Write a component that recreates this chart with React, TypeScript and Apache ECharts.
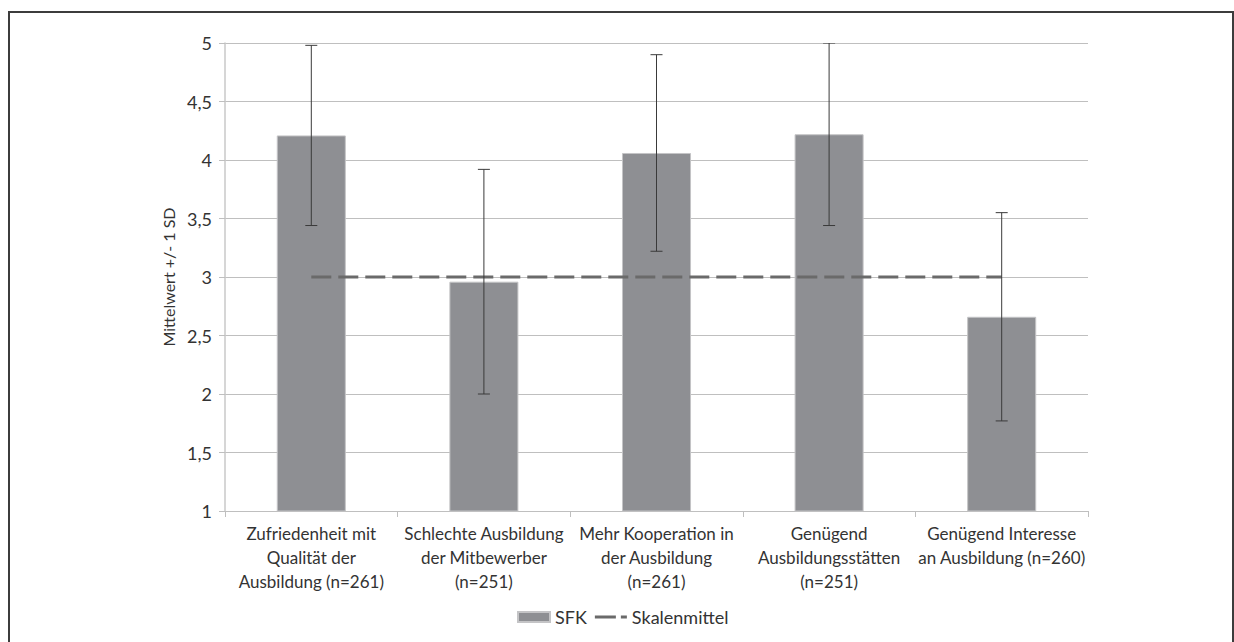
import React, { useEffect, useRef } from "react";
import * as echarts from "echarts";

const categories = [
  "Zufriedenheit mit\nQualität der\nAusbildung (n=261)",
  "Schlechte Ausbildung\nder Mitbewerber\n(n=251)",
  "Mehr Kooperation in\nder Ausbildung\n(n=261)",
  "Genügend\nAusbildungsstätten\n(n=251)",
  "Genügend Interesse\nan Ausbildung (n=260)",
];
const means = [4.21, 2.96, 4.06, 4.22, 2.66];
const sds = [0.77, 0.96, 0.84, 0.78, 0.89];
const scaleMid = [3, 3, 3, 3, 3];
const yTicks = { min: 1, max: 5, interval: 0.5 };

const FONT = "Lato";

export default function App() {
  const ref = useRef<HTMLDivElement>(null);
  useEffect(() => {
    if (!ref.current) return;
    const chart = echarts.init(ref.current, null, { renderer: "svg" });
    const errData = means.map((m, i) => [i, m - sds[i], m + sds[i]]);
    chart.setOption({
      animation: false,
      backgroundColor: "#ffffff",
      textStyle: { fontFamily: FONT },
      grid: { left: 225, right: 146, top: 43, bottom: 131 },
      graphic: [
        {
          type: "rect",
          shape: { x: 9, y: 12, width: 1224, height: 650 },
          style: { fill: "none", stroke: "#3c3c3c", lineWidth: 2 },
          silent: true,
        },
      ],
      legend: {
        left: 512,
        top: 603,
        itemGap: 8,
        textStyle: { fontFamily: FONT, fontSize: 18, color: "#333" },
        data: [
          { name: "SFK", icon: "rect", itemStyle: { color: "#8e8f93" } },
          {
            name: "Skalenmittel",
            icon: "path://M0,0h21v3h-21z M26,0h6v3h-6z",
            itemStyle: { color: "#6a6a6a" },
          },
        ],
        itemWidth: 32,
        itemHeight: 10,
      },
      xAxis: {
        type: "category",
        data: categories,
        axisLine: { lineStyle: { color: "#bfbfbf", width: 1 } },
        axisTick: { show: true, length: 6, lineStyle: { color: "#bfbfbf" } },
        axisLabel: {
          interval: 0,
          fontFamily: FONT,
          fontSize: 17,
          color: "#333",
          lineHeight: 24,
          margin: 10,
        },
      },
      yAxis: {
        type: "value",
        min: yTicks.min,
        max: yTicks.max,
        interval: yTicks.interval,
        name: "Mittelwert +/- 1 SD",
        nameLocation: "middle",
        nameGap: 47,
        nameTextStyle: { fontFamily: FONT, fontSize: 16, color: "#333" },
        axisLine: { show: true, lineStyle: { color: "#c8c8c8", width: 1.5 } },
        axisTick: { show: true, length: 6, lineStyle: { color: "#bfbfbf" } },
        splitLine: { lineStyle: { color: "#bfbfbf", width: 1 } },
        axisLabel: {
          fontFamily: FONT,
          fontSize: 18,
          color: "#333",
          margin: 13,
          formatter: (v: number) => String(v).replace(".", ","),
        },
      },
      series: [
        {
          name: "SFK",
          type: "bar",
          data: means,
          barWidth: "40%",
          itemStyle: { color: "#8e8f93", borderColor: "#c4c4c6", borderWidth: 1 },
          z: 2,
        },
        {
          name: "Errors",
          type: "custom",
          data: errData,
          z: 4,
          clip: true,
          encode: { x: 0, y: [1, 2] },
          renderItem: (params: any, api: any) => {
            const i = api.value(0);
            const lo = api.coord([i, api.value(1)]);
            const hi = api.coord([i, api.value(2)]);
            const cap = 6;
            const style = { stroke: "#3a3a3a", lineWidth: 1 };
            return {
              type: "group",
              children: [
                { type: "line", shape: { x1: lo[0], y1: lo[1], x2: hi[0], y2: hi[1] }, style },
                { type: "line", shape: { x1: lo[0] - cap, y1: lo[1], x2: lo[0] + cap, y2: lo[1] }, style },
                { type: "line", shape: { x1: hi[0] - cap, y1: hi[1], x2: hi[0] + cap, y2: hi[1] }, style },
              ],
            };
          },
        },
        {
          name: "Skalenmittel",
          type: "line",
          data: scaleMid,
          symbol: "none",
          z: 3,
          lineStyle: { color: "#6a6a6a", width: 3, type: [20, 7] },
          itemStyle: { color: "#6a6a6a" },
        },
      ],
    });
    return () => chart.dispose();
  }, []);
  return (
    <div
      ref={ref}
      style={{ position: "absolute", left: 0, top: 0, width: 1234, height: 642 }}
    />
  );
}
